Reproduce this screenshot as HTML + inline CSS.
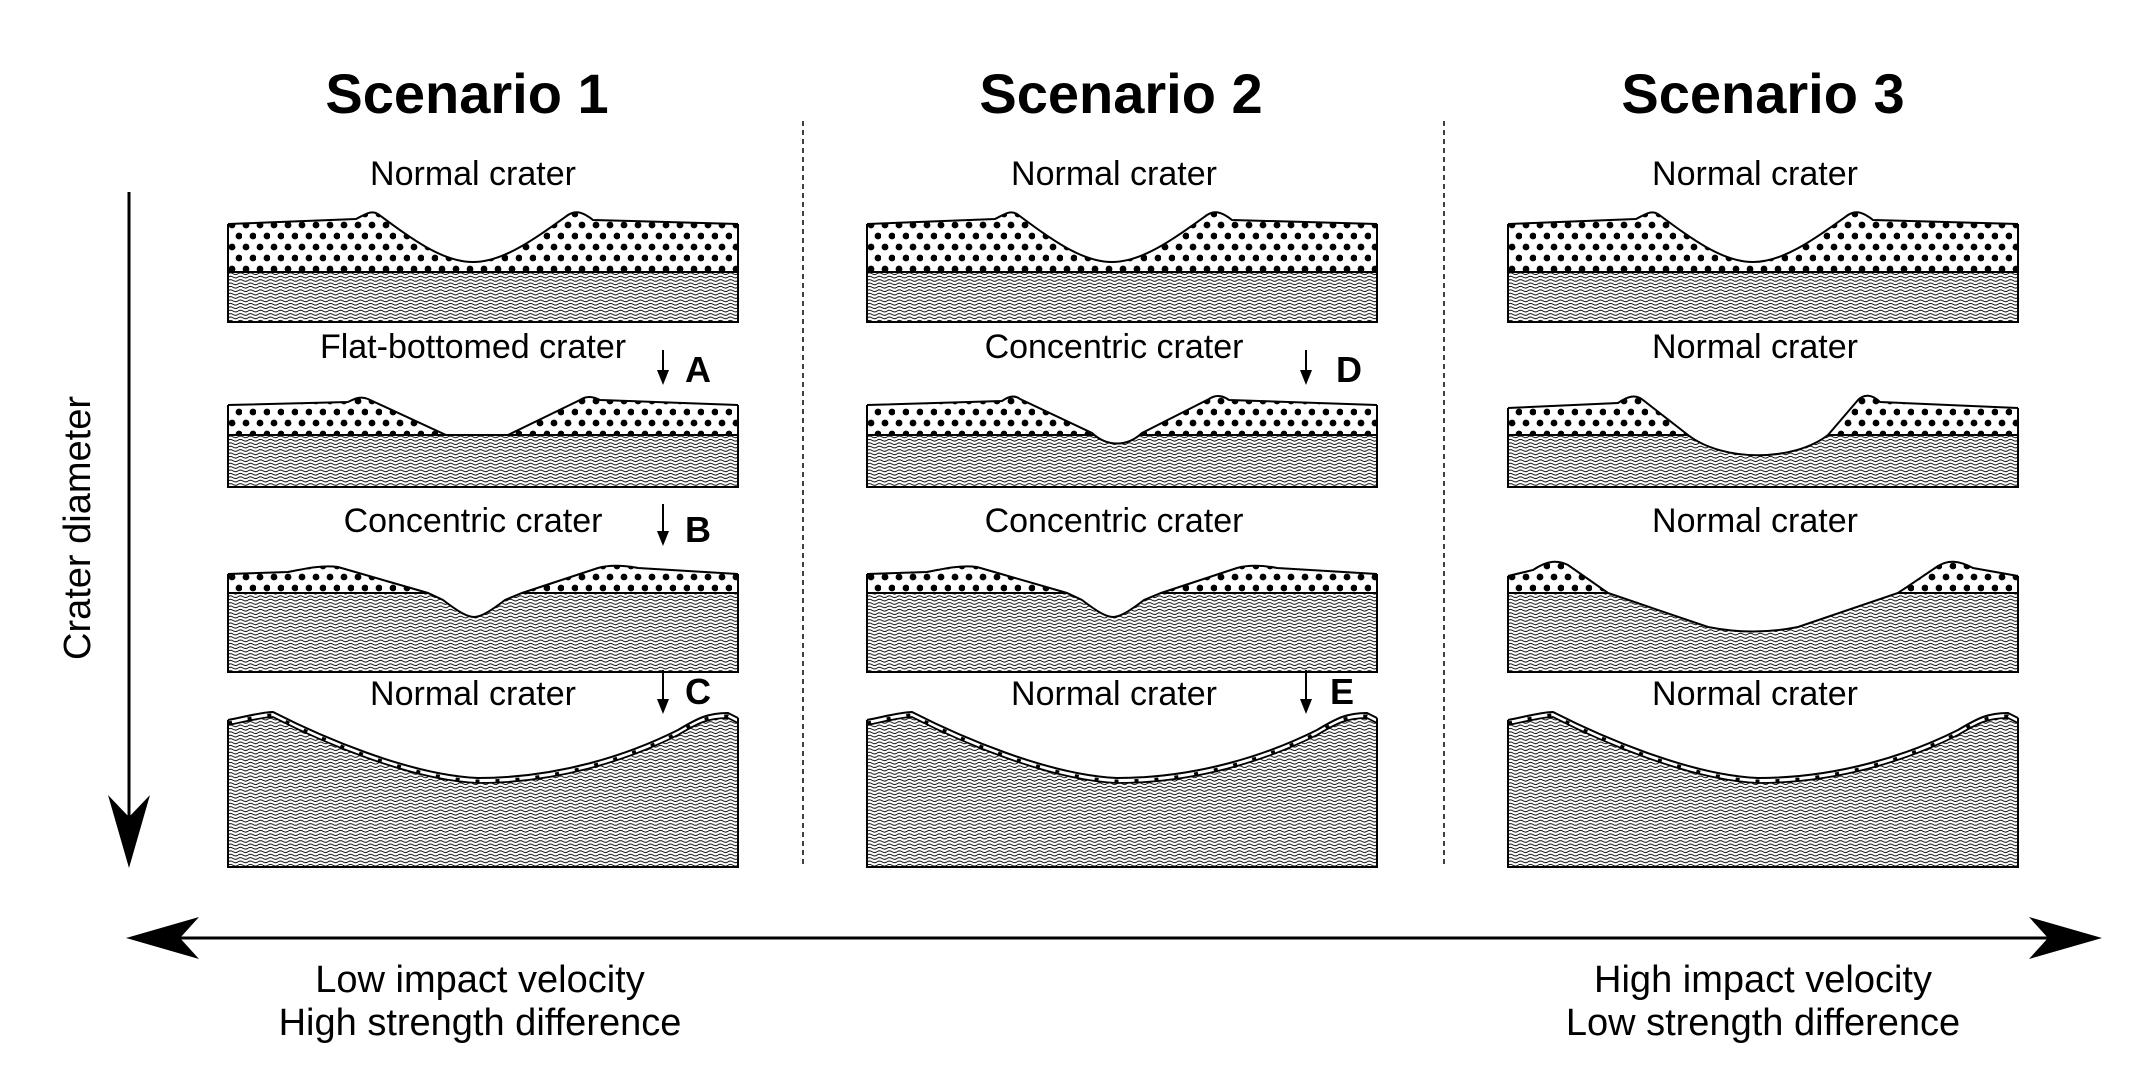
<!DOCTYPE html>
<html><head><meta charset="utf-8"><style>
html,body{margin:0;padding:0;background:#fff}
svg{display:block}
text{font-family:"Liberation Sans",sans-serif;fill:#000}
</style></head><body>
<svg width="2152" height="1074" viewBox="0 0 2152 1074" xmlns="http://www.w3.org/2000/svg">
<defs>
<pattern id="wave" patternUnits="userSpaceOnUse" width="10" height="3.4">
<path d="M0 1.7 Q2.5 0.1 5 1.7 T10 1.7" fill="none" stroke="#000" stroke-width="0.95"/>
</pattern>
<pattern id="dots" patternUnits="userSpaceOnUse" width="14" height="22">
<circle cx="4" cy="5" r="3.4" fill="#000"/>
<circle cx="11" cy="16" r="3.4" fill="#000"/>
</pattern>
<path id="s1" d="M0 224 L128 219 C138 214,143 210,150 214 C185 240,215 262,245 262 C275 262,305 240,340 215 C348 210,355 212,365 220 L510 224"/>
<path id="s2a" d="M0 405 L120 402 C128 398,133 396,140 399 L218 435 L280 435 L352 400 C358 396,364 396,372 400 L510 405"/>
<path id="s2b" d="M0 405 L135 401 C142 396,148 395,153 399 L225 433 C240 447,260 447,275 433 L342 399 C348 395,355 395,362 400 L510 405"/>
<path id="s2c" d="M0 408 L110 403 C120 396,128 394,135 400 L180 435 C215 462,285 462,320 435 L350 400 C356 394,364 394,372 402 L510 408"/>
<path id="s3a" d="M0 574 L60 572 C80 568,95 565,110 567 L200 593 L215 600 C232 613,240 617,246 617 C252 617,260 613,277 600 L294 593 L370 568 C380 565,395 565,410 568 L510 574"/>
<path id="s3c" d="M0 576 L25 570 C40 560,50 560,60 565 L100 593 L200 627 C230 633,260 633,290 627 L390 593 L430 566 C440 560,450 560,465 568 L510 576"/>
<path id="s4" d="M0 720 C20 716,35 712,45 712 C90 735,180 775,250 778 C330 778,400 755,450 730 C470 718,480 713,500 713 L510 718"/>
<clipPath id="c1"><path d="M0 224 L128 219 C138 214,143 210,150 214 C185 240,215 262,245 262 C275 262,305 240,340 215 C348 210,355 212,365 220 L510 224 L510 322 L0 322Z"/></clipPath>
<clipPath id="c2a"><path d="M0 405 L120 402 C128 398,133 396,140 399 L218 435 L280 435 L352 400 C358 396,364 396,372 400 L510 405 L510 487 L0 487Z"/></clipPath>
<clipPath id="c2b"><path d="M0 405 L135 401 C142 396,148 395,153 399 L225 433 C240 447,260 447,275 433 L342 399 C348 395,355 395,362 400 L510 405 L510 487 L0 487Z"/></clipPath>
<clipPath id="c2c"><path d="M0 408 L110 403 C120 396,128 394,135 400 L180 435 C215 462,285 462,320 435 L350 400 C356 394,364 394,372 402 L510 408 L510 487 L0 487Z"/></clipPath>
<clipPath id="c3a"><path d="M0 574 L60 572 C80 568,95 565,110 567 L200 593 L215 600 C232 613,240 617,246 617 C252 617,260 613,277 600 L294 593 L370 568 C380 565,395 565,410 568 L510 574 L510 672 L0 672Z"/></clipPath>
<clipPath id="c3c"><path d="M0 576 L25 570 C40 560,50 560,60 565 L100 593 L200 627 C230 633,260 633,290 627 L390 593 L430 566 C440 560,450 560,465 568 L510 576 L510 672 L0 672Z"/></clipPath>
<clipPath id="c4"><path d="M0 725 C20 721,35 717,45 717 C90 740,180 780,250 783 C330 783,400 760,450 735 C470 723,480 718,500 718 L510 723 L510 867 L0 867Z"/></clipPath>

<g id="p1">
<g clip-path="url(#c1)"><rect x="0" y="200" width="510" height="72" fill="url(#dots)"/><rect x="0" y="272" width="510" height="50" fill="url(#wave)"/><line x1="0" y1="272" x2="510" y2="272" stroke="#000" stroke-width="2"/></g>
<use href="#s1" fill="none" stroke="#000" stroke-width="2"/>
<path d="M0 224 V322 H510 V224" fill="none" stroke="#000" stroke-width="2"/>
</g>
<g id="p2a">
<g clip-path="url(#c2a)"><rect x="0" y="390" width="510" height="45" fill="url(#dots)"/><rect x="0" y="435" width="510" height="52" fill="url(#wave)"/><line x1="0" y1="435" x2="510" y2="435" stroke="#000" stroke-width="2"/></g>
<use href="#s2a" fill="none" stroke="#000" stroke-width="2"/>
<path d="M0 405 V487 H510 V405" fill="none" stroke="#000" stroke-width="2"/>
</g>
<g id="p2b">
<g clip-path="url(#c2b)"><rect x="0" y="390" width="510" height="45" fill="url(#dots)"/><rect x="0" y="435" width="510" height="52" fill="url(#wave)"/><line x1="0" y1="435" x2="510" y2="435" stroke="#000" stroke-width="2"/></g>
<use href="#s2b" fill="none" stroke="#000" stroke-width="2"/>
<path d="M0 405 V487 H510 V405" fill="none" stroke="#000" stroke-width="2"/>
</g>
<g id="p2c">
<g clip-path="url(#c2c)"><rect x="0" y="390" width="510" height="45" fill="url(#dots)"/><rect x="0" y="435" width="510" height="52" fill="url(#wave)"/><line x1="0" y1="435" x2="510" y2="435" stroke="#000" stroke-width="2"/></g>
<use href="#s2c" fill="none" stroke="#000" stroke-width="2"/>
<path d="M0 408 V487 H510 V408" fill="none" stroke="#000" stroke-width="2"/>
</g>
<g id="p3a">
<g clip-path="url(#c3a)"><rect x="0" y="555" width="510" height="38" fill="url(#dots)"/><rect x="0" y="593" width="510" height="79" fill="url(#wave)"/><line x1="0" y1="593" x2="510" y2="593" stroke="#000" stroke-width="2"/></g>
<use href="#s3a" fill="none" stroke="#000" stroke-width="2"/>
<path d="M0 574 V672 H510 V574" fill="none" stroke="#000" stroke-width="2"/>
</g>
<g id="p3c">
<g clip-path="url(#c3c)"><rect x="0" y="555" width="510" height="38" fill="url(#dots)"/><rect x="0" y="593" width="510" height="79" fill="url(#wave)"/><line x1="0" y1="593" x2="510" y2="593" stroke="#000" stroke-width="2"/></g>
<use href="#s3c" fill="none" stroke="#000" stroke-width="2"/>
<path d="M0 576 V672 H510 V576" fill="none" stroke="#000" stroke-width="2"/>
</g>
<g id="p4">
<rect x="0" y="715" width="510" height="152" fill="url(#wave)" clip-path="url(#c4)"/>
<use href="#s4" fill="none" stroke="#000" stroke-width="2"/>
<use href="#s4" transform="translate(0,3)" fill="none" stroke="#000" stroke-width="3" stroke-dasharray="4 16"/>
<use href="#s4" transform="translate(0,5)" fill="none" stroke="#000" stroke-width="1.8"/>
<path d="M0 720 V867 H510 V718" fill="none" stroke="#000" stroke-width="2"/>
</g>
</defs>

<text x="467" y="113" font-size="56" font-weight="bold" text-anchor="middle">Scenario 1</text>
<text x="1121" y="113" font-size="56" font-weight="bold" text-anchor="middle">Scenario 2</text>
<text x="1763" y="113" font-size="56" font-weight="bold" text-anchor="middle">Scenario 3</text>

<line x1="803" y1="121" x2="803" y2="867" stroke="#000" stroke-width="1.5" stroke-dasharray="5 4"/>
<line x1="1444" y1="121" x2="1444" y2="867" stroke="#000" stroke-width="1.5" stroke-dasharray="5 4"/>

<g transform="translate(228,0)"><use href="#p1"/><use href="#p2a"/><use href="#p3a"/><use href="#p4"/></g>
<g transform="translate(867,0)"><use href="#p1"/><use href="#p2b"/><use href="#p3a"/><use href="#p4"/></g>
<g transform="translate(1508,0)"><use href="#p1"/><use href="#p2c"/><use href="#p3c"/><use href="#p4"/></g>

<g font-size="34" text-anchor="middle">
<text x="473" y="185">Normal crater</text>
<text x="1114" y="185">Normal crater</text>
<text x="1755" y="185">Normal crater</text>
<text x="473" y="358">Flat-bottomed crater</text>
<text x="1114" y="358">Concentric crater</text>
<text x="1755" y="358">Normal crater</text>
<text x="473" y="532">Concentric crater</text>
<text x="1114" y="532">Concentric crater</text>
<text x="1755" y="532">Normal crater</text>
<text x="473" y="705">Normal crater</text>
<text x="1114" y="705">Normal crater</text>
<text x="1755" y="705">Normal crater</text>
</g>

<g stroke="#000" stroke-width="2" fill="#000">
<line x1="663" y1="350" x2="663" y2="378"/><path d="M657 370 L663 385 L669 370 Z" stroke="none"/>
<line x1="663" y1="504" x2="663" y2="539"/><path d="M657 531 L663 546 L669 531 Z" stroke="none"/>
<line x1="663" y1="670" x2="663" y2="707"/><path d="M657 699 L663 714 L669 699 Z" stroke="none"/>
<line x1="1306" y1="350" x2="1306" y2="378"/><path d="M1300 370 L1306 385 L1312 370 Z" stroke="none"/>
<line x1="1306" y1="670" x2="1306" y2="707"/><path d="M1300 699 L1306 714 L1312 699 Z" stroke="none"/>
</g>
<g font-size="36" font-weight="bold" text-anchor="middle">
<text x="698" y="382">A</text>
<text x="698" y="542">B</text>
<text x="698" y="704">C</text>
<text x="1349" y="382">D</text>
<text x="1342" y="704">E</text>
</g>

<line x1="129" y1="192" x2="129" y2="820" stroke="#000" stroke-width="3"/>
<path d="M108 795 L129 817 L150 795 L129 868 Z" fill="#000"/>
<text transform="translate(90,528) rotate(-90)" font-size="38" text-anchor="middle">Crater diameter</text>

<line x1="175" y1="938" x2="2055" y2="938" stroke="#000" stroke-width="3"/>
<path d="M199 917 L180 938 L199 959 L126 938 Z" fill="#000"/>
<path d="M2029 917 L2048 938 L2029 959 L2102 938 Z" fill="#000"/>

<g font-size="38" text-anchor="middle">
<text x="480" y="992">Low impact velocity</text>
<text x="480" y="1035">High strength difference</text>
<text x="1763" y="992">High impact velocity</text>
<text x="1763" y="1035">Low strength difference</text>
</g>
</svg>
</body></html>
